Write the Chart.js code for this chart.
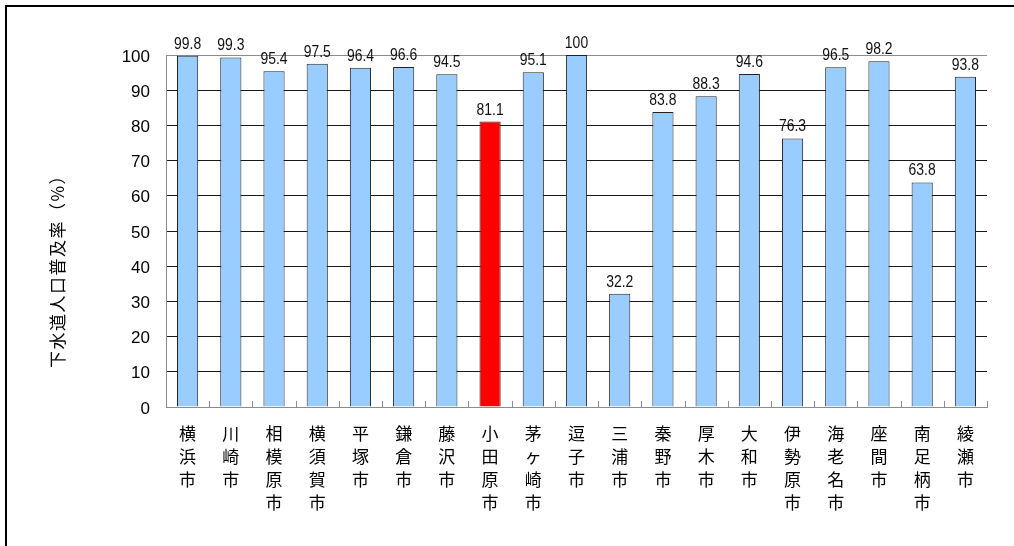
<!DOCTYPE html>
<html>
<head>
<meta charset="utf-8">
<script src="https://cdn.jsdelivr.net/npm/chart.js@4"></script>
<style>
  html, body { margin: 0; padding: 0; background: #fff; overflow: hidden; }
  #frame {
    position: absolute; left: 5px; top: 5px; width: 1040px; height: 580px;
    border-left: 2px solid #000; border-top: 2px solid #000;
  }
  #sewerage { position: absolute; left: 0; top: 0; }
</style>
</head>
<body>
<div id="frame"></div>
<canvas id="sewerage" width="1014" height="546"></canvas>
<script>
const cities = [
  "横浜市", "川崎市", "相模原市", "横須賀市", "平塚市", "鎌倉市", "藤沢市",
  "小田原市", "茅ヶ崎市", "逗子市", "三浦市", "秦野市", "厚木市", "大和市",
  "伊勢原市", "海老名市", "座間市", "南足柄市", "綾瀬市",
];
const rates = [
  99.8, 99.3, 95.4, 97.5, 96.4, 96.6, 94.5,
  81.1, 95.1, 100, 32.2, 83.8, 88.3, 94.6,
  76.3, 96.5, 98.2, 63.8, 93.8,
];
const highlight = "小田原市";
const yTitle = "下水道人口普及率（%）";

const barColors = cities.map((c) => (c === highlight ? "#ff0000" : "#99ccff"));

// value printed above each bar (narrow digits)
const barLabels = {
  id: "barLabels",
  afterDatasetsDraw(chart) {
    const ctx = chart.ctx;
    const meta = chart.getDatasetMeta(0);
    ctx.save();
    ctx.font = "17px 'Liberation Sans', Arial, sans-serif";
    ctx.fillStyle = "#111";
    ctx.textAlign = "center";
    ctx.textBaseline = "alphabetic";
    meta.data.forEach((bar, i) => {
      ctx.save();
      ctx.translate(bar.x, bar.y - 7);
      ctx.scale(0.82, 1);
      ctx.fillText(String(rates[i]), 0, 0);
      ctx.restore();
    });
    ctx.restore();
  },
};

// short upward ticks between categories on the x axis, plus the y axis title
const extras = {
  id: "extras",
  afterDraw(chart) {
    const x = chart.scales.x;
    const ctx = chart.ctx;
    const step = (x.right - x.left) / cities.length;
    ctx.save();
    ctx.strokeStyle = "#8c8c8c";
    ctx.lineWidth = 1;
    ctx.beginPath();
    for (let i = 0; i <= cities.length; i++) {
      const px = Math.round(x.left + i * step) + 0.5;
      ctx.moveTo(px, x.top);
      ctx.lineTo(px, x.top - 6);
    }
    ctx.stroke();

    ctx.translate(58, 267);
    ctx.rotate(-Math.PI / 2);
    ctx.font = "17px 'Noto Sans CJK JP', sans-serif";
    ctx.letterSpacing = "1.5px";
    ctx.fillStyle = "#000";
    ctx.textAlign = "center";
    ctx.textBaseline = "middle";
    ctx.fillText(yTitle, 0, 0);
    ctx.restore();
  },
};

new Chart("sewerage", {
  type: "bar",
  data: {
    labels: cities.map((c) => c.split("")),
    datasets: [
      {
        data: rates,
        backgroundColor: barColors,
        borderColor: "#222",
        borderWidth: 1,
        barPercentage: 0.49,
        categoryPercentage: 1.0,
      },
    ],
  },
  options: {
    responsive: false,
    devicePixelRatio: 1,
    animation: false,
    layout: { padding: { top: 55, right: 27, left: 0, bottom: 0 } },
    plugins: {
      legend: { display: false },
      tooltip: { enabled: false },
    },
    scales: {
      x: {
        grid: { display: false, drawTicks: false },
        border: { display: true, color: "#8c8c8c", width: 1 },
        ticks: {
          color: "#000",
          maxRotation: 0,
          autoSkip: false,
          padding: 15,
          font: { family: "'Noto Sans CJK JP', sans-serif", size: 17, lineHeight: 1.35 },
        },
        afterFit(scale) {
          scale.height = 139;
        },
      },
      y: {
        min: 0,
        max: 100,
        ticks: {
          stepSize: 10,
          color: "#000",
          padding: 16,
          labelOffset: 2,
          font: { family: "'Liberation Sans', Arial, sans-serif", size: 17 },
        },
        grid: {
          drawTicks: false,
          color: (c) => (c.tick && c.tick.value === 100 ? "#8c8c8c" : "#1a1a1a"),
          lineWidth: 1,
        },
        border: { display: true, color: "#8c8c8c", width: 1 },
        afterFit(scale) {
          scale.width = 166;
        },
      },
    },
  },
  plugins: [barLabels, extras],
});
</script>
</body>
</html>
